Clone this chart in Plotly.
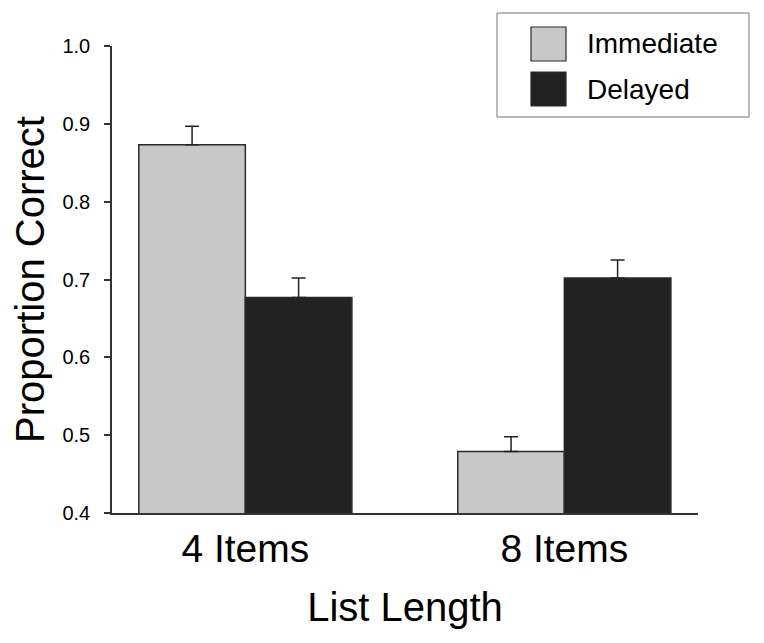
import plotly.graph_objects as go

categories = ["4 Items", "8 Items"]
immediate = [0.873, 0.479]
immediate_err = [0.024, 0.019]
delayed = [0.677, 0.702]
delayed_err = [0.025, 0.023]
y_ticks = [0.4, 0.5, 0.6, 0.7, 0.8, 0.9, 1.0]
y_tick_labels = ["0.4", "0.5", "0.6", "0.7", "0.8", "0.9", "1.0"]
series_names = ["Immediate", "Delayed"]

FONT = "Liberation Sans, Arial, sans-serif"
OFF = 8  # page body margin
W, H = 764, 643
L, T = 112 - OFF, 46 - OFF
PW, PH = 586, 467
R = W - L - PW
B = H - T - PH
colors = ["#c8c8c8", "#222222"]

fig = go.Figure()
for name, vals, errs, col in [(series_names[0], immediate, immediate_err, colors[0]),
                              (series_names[1], delayed, delayed_err, colors[1])]:
    fig.add_trace(go.Bar(
        x=categories, y=vals, name=name,
        marker=dict(color=col, line=dict(color="#2a2a2a", width=1.5)),
        error_y=dict(type="data", symmetric=False, array=errs,
                     arrayminus=[0] * len(errs), color="#222222",
                     thickness=1.5, width=7),
        showlegend=False,
    ))

# manual legend (reference pixel layout converted to paper coords)
def px_x(p):
    return (p - OFF - L) / PW

def px_y(p):
    return (T + PH - (p - OFF)) / PH

shapes = [dict(type="rect", xref="paper", yref="paper",
               x0=px_x(497), x1=px_x(749), y0=px_y(117), y1=px_y(13),
               line=dict(color="#777777", width=1), fillcolor="white")]
annotations = []
for i, (name, col) in enumerate(zip(series_names, colors)):
    top = 27 + i * 45
    shapes.append(dict(type="rect", xref="paper", yref="paper",
                       x0=px_x(531), x1=px_x(566), y0=px_y(top + 34), y1=px_y(top),
                       line=dict(color="#2a2a2a", width=1.2), fillcolor=col))
    annotations.append(dict(xref="paper", yref="paper", x=px_x(585), y=px_y(top + 17),
                            text=name, showarrow=False, xanchor="left", yanchor="middle",
                            font=dict(family=FONT, size=28, color="black")))

fig.update_layout(
    width=W, height=H,
    margin=dict(l=L, r=R, t=T, b=B, pad=0),
    paper_bgcolor="white", plot_bgcolor="white",
    barmode="group", bargap=0.332, bargroupgap=0,
    shapes=shapes, annotations=annotations,
    font=dict(family=FONT, color="black"),
)
fig.update_xaxes(
    range=[-0.418, 1.419], showline=True, linecolor="#333333", linewidth=1.5,
    ticks="", showgrid=False, zeroline=False,
    tickfont=dict(family=FONT, size=39, color="black"),
    title=dict(text="List Length", font=dict(family=FONT, size=40, color="black"), standoff=24),
)
fig.update_yaxes(
    range=[0.4, 1.0], tickvals=y_ticks, ticktext=y_tick_labels,
    showline=True, linecolor="#333333", linewidth=1.5,
    ticks="outside", ticklen=6, tickwidth=1.5, tickcolor="#333333",
    ticklabelstandoff=10,
    showgrid=False, zeroline=False,
    tickfont=dict(family=FONT, size=20, color="black"),
    title=dict(text="Proportion Correct", font=dict(family=FONT, size=40, color="black"), standoff=8),
)
fig.write_html("out.html")
